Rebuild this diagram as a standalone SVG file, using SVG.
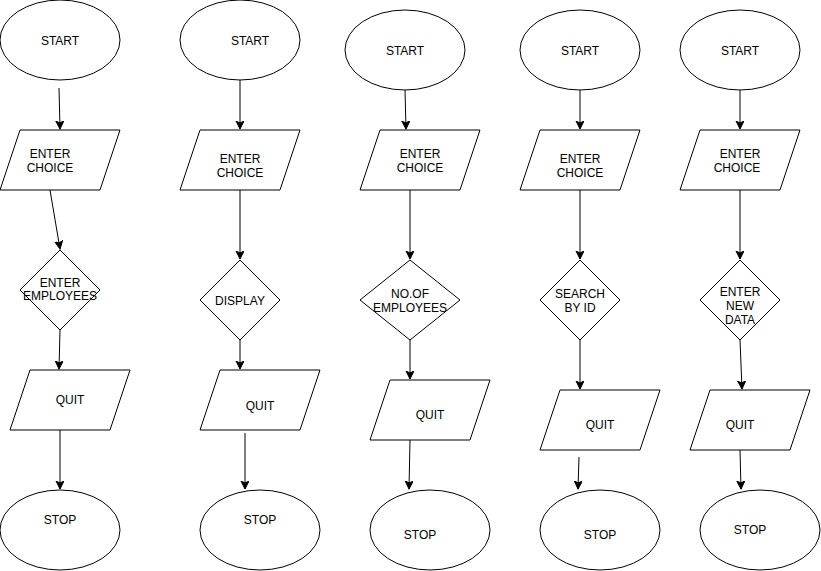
<svg xmlns="http://www.w3.org/2000/svg" width="821" height="571" viewBox="0 0 821 571">
<defs>
<style>
.s{fill:#fff;stroke:#000;stroke-width:1}
.t{font-family:"Liberation Sans",Arial,Helvetica,sans-serif;font-size:12px;fill:#000;text-anchor:middle}
.c{fill:none;stroke:#000;stroke-width:1}
</style>
<marker id="ah" markerUnits="userSpaceOnUse" markerWidth="10" markerHeight="10" refX="8" refY="4" orient="auto">
<path d="M8,4 L0,0 L2,4 L0,8 Z" fill="#000" stroke="#000" stroke-width="1"/>
</marker>
</defs>
<rect width="821" height="571" fill="#fff"/>
<g id="connectors">
<line class="c" x1="59" y1="88" x2="60" y2="129" marker-end="url(#ah)"/>
<line class="c" x1="50" y1="190" x2="60" y2="249" marker-end="url(#ah)"/>
<line class="c" x1="60" y1="330" x2="59" y2="369" marker-end="url(#ah)"/>
<line class="c" x1="60" y1="430" x2="60" y2="489" marker-end="url(#ah)"/>
<line class="c" x1="240" y1="80" x2="240" y2="129" marker-end="url(#ah)"/>
<line class="c" x1="240" y1="190" x2="240" y2="259" marker-end="url(#ah)"/>
<line class="c" x1="240" y1="340" x2="240" y2="369" marker-end="url(#ah)"/>
<line class="c" x1="245" y1="433" x2="245" y2="489" marker-end="url(#ah)"/>
<line class="c" x1="405" y1="90" x2="406" y2="129" marker-end="url(#ah)"/>
<line class="c" x1="410" y1="190" x2="410" y2="259" marker-end="url(#ah)"/>
<line class="c" x1="410" y1="340" x2="410" y2="379" marker-end="url(#ah)"/>
<line class="c" x1="410" y1="440" x2="409" y2="489" marker-end="url(#ah)"/>
<line class="c" x1="580" y1="90" x2="580" y2="129" marker-end="url(#ah)"/>
<line class="c" x1="580" y1="190" x2="580" y2="259" marker-end="url(#ah)"/>
<line class="c" x1="580" y1="340" x2="580" y2="389" marker-end="url(#ah)"/>
<line class="c" x1="579" y1="457" x2="578" y2="489" marker-end="url(#ah)"/>
<line class="c" x1="740" y1="90" x2="740" y2="129" marker-end="url(#ah)"/>
<line class="c" x1="740" y1="190" x2="740" y2="259" marker-end="url(#ah)"/>
<line class="c" x1="740" y1="340" x2="742" y2="389" marker-end="url(#ah)"/>
<line class="c" x1="740" y1="450" x2="741" y2="489" marker-end="url(#ah)"/>
</g>
<g id="start1"><ellipse class="s" cx="60" cy="40" rx="60" ry="40"/><text class="t" x="60" y="45">START</text></g>
<g id="choice1"><polygon class="s" points="20,130 120,130 100,190 0,190"/><text class="t" x="50" y="158">ENTER</text><text class="t" x="50" y="172">CHOICE</text></g>
<g id="dec1"><polygon class="s" points="60,250 100,290 60,330 20,290"/><text class="t" x="60" y="287">ENTER</text><text class="t" x="60" y="300">EMPLOYEES</text></g>
<g id="quit1"><polygon class="s" points="30,370 130,370 110,430 10,430"/><text class="t" x="70" y="404">QUIT</text></g>
<g id="stop1"><ellipse class="s" cx="60" cy="530" rx="60" ry="40"/><text class="t" x="60" y="524">STOP</text></g>

<g id="start2"><ellipse class="s" cx="240" cy="40" rx="60" ry="40"/><text class="t" x="250" y="45">START</text></g>
<g id="choice2"><polygon class="s" points="200,130 300,130 280,190 180,190"/><text class="t" x="240" y="163">ENTER</text><text class="t" x="240" y="177">CHOICE</text></g>
<g id="dec2"><polygon class="s" points="240,260 280,300 240,340 200,300"/><text class="t" x="240" y="305">DISPLAY</text></g>
<g id="quit2"><polygon class="s" points="220,370 320,370 300,430 200,430"/><text class="t" x="260" y="410">QUIT</text></g>
<g id="stop2"><ellipse class="s" cx="260" cy="530" rx="60" ry="40"/><text class="t" x="260" y="524">STOP</text></g>

<g id="start3"><ellipse class="s" cx="405" cy="50" rx="60" ry="40"/><text class="t" x="405" y="55">START</text></g>
<g id="choice3"><polygon class="s" points="380,130 480,130 460,190 360,190"/><text class="t" x="420" y="158">ENTER</text><text class="t" x="420" y="172">CHOICE</text></g>
<g id="dec3"><polygon class="s" points="410,260 460,300 410,340 360,300"/><text class="t" x="410" y="298">NO.OF</text><text class="t" x="410" y="312">EMPLOYEES</text></g>
<g id="quit3"><polygon class="s" points="390,380 490,380 470,440 370,440"/><text class="t" x="430" y="419">QUIT</text></g>
<g id="stop3"><ellipse class="s" cx="430" cy="530" rx="60" ry="40"/><text class="t" x="420" y="539">STOP</text></g>

<g id="start4"><ellipse class="s" cx="580" cy="50" rx="60" ry="40"/><text class="t" x="580" y="55">START</text></g>
<g id="choice4"><polygon class="s" points="540,130 640,130 620,190 520,190"/><text class="t" x="580" y="163">ENTER</text><text class="t" x="580" y="177">CHOICE</text></g>
<g id="dec4"><polygon class="s" points="580,260 620,300 580,340 540,300"/><text class="t" x="580" y="298">SEARCH</text><text class="t" x="580" y="312">BY ID</text></g>
<g id="quit4"><polygon class="s" points="560,390 660,390 640,450 540,450"/><text class="t" x="600" y="429">QUIT</text></g>
<g id="stop4"><ellipse class="s" cx="600" cy="530" rx="60" ry="40"/><text class="t" x="600" y="539">STOP</text></g>

<g id="start5"><ellipse class="s" cx="740" cy="50" rx="60" ry="40"/><text class="t" x="740" y="55">START</text></g>
<g id="choice5"><polygon class="s" points="700,130 800,130 780,190 680,190"/><text class="t" x="740" y="158">ENTER</text><text class="t" x="737" y="172">CHOICE</text></g>
<g id="dec5"><polygon class="s" points="740,260 780,300 740,340 700,300"/><text class="t" x="740" y="296">ENTER</text><text class="t" x="740" y="310">NEW</text><text class="t" x="740" y="324">DATA</text></g>
<g id="quit5"><polygon class="s" points="710,390 810,390 790,450 690,450"/><text class="t" x="740" y="429">QUIT</text></g>
<g id="stop5"><ellipse class="s" cx="760" cy="530" rx="60" ry="40"/><text class="t" x="750" y="534">STOP</text></g>
</svg>
